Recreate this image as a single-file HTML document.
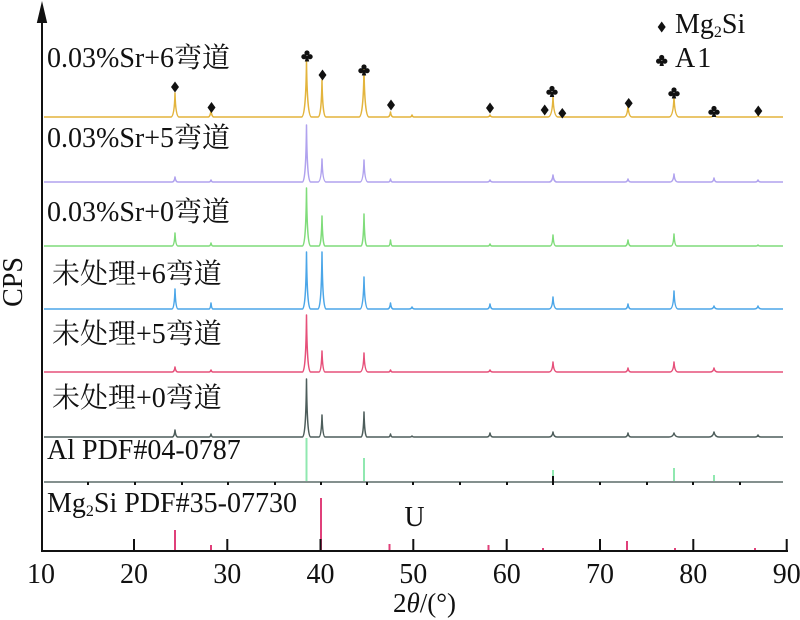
<!DOCTYPE html>
<html>
<head>
<meta charset="utf-8">
<style>
html,body{margin:0;padding:0;background:#fff;}
svg{display:block;}
text{font-family:"Liberation Serif","Noto Serif CJK SC",serif;fill:#111;}
</style>
</head>
<body>
<svg width="800" height="620" viewBox="0 0 800 620" xmlns="http://www.w3.org/2000/svg">
<rect width="800" height="620" fill="#fff"/>

<!-- series -->
<g fill="none" stroke-width="1.5" stroke-linejoin="round">
<path stroke="#e3b43c" d="M44,117 L171,117 Q174.4,117 175,93 Q175.6,117 179,117 L208,117 Q210.4,117 211,110 Q211.6,117 214,117 L301.5,117 Q305.9,117 306.5,60 Q307.1,117 311.5,117 L318,117 Q321.4,117 322,80 Q322.6,117 326,117 L359,117 Q363.4,117 364,68 Q364.6,117 369,117 L387.5,117 Q389.9,117 390.5,112 Q391.1,117 393.5,117 L410,117 Q411.4,117 412,115 Q412.6,117 414,117 L487,117 Q489.4,117 490,115 Q490.6,117 493,117 L548,117 Q552.4,117 553,96 Q553.6,117 558,117 L624,117 Q627.4,117 628,105 Q628.6,117 632,117 L669,117 Q673.4,117 674,96 Q674.6,117 679,117 L710,117 Q713.4,117 714,114 Q714.6,117 718,117 L755,117 Q757.4,117 758,116 Q758.6,117 761,117 L783,117"/>
<path stroke="#b0a2ee" d="M44,182 L172,182 Q174.4,182 175,177 Q175.6,182 178,182 L209,182 Q210.4,182 211,180 Q211.6,182 213,182 L302.5,182 Q305.9,182 306.5,125 Q307.1,182 310.5,182 L318,182 Q321.4,182 322,159 Q322.6,182 326,182 L360,182 Q363.4,182 364,160 Q364.6,182 368,182 L388.5,182 Q389.9,182 390.5,179 Q391.1,182 392.5,182 L487,182 Q489.4,182 490,180 Q490.6,182 493,182 L549,182 Q552.4,182 553,175 Q553.6,182 557,182 L625,182 Q627.4,182 628,179 Q628.6,182 631,182 L670,182 Q673.4,182 674,174 Q674.6,182 678,182 L711,182 Q713.4,182 714,178 Q714.6,182 717,182 L755,182 Q757.4,182 758,180 Q758.6,182 761,182 L783,182"/>
<path stroke="#7fdc7a" d="M44,246 L172,246 Q174.4,246 175,233 Q175.6,246 178,246 L209,246 Q210.4,246 211,243 Q211.6,246 213,246 L302.5,246 Q305.9,246 306.5,188 Q307.1,246 310.5,246 L319,246 Q321.4,246 322,216 Q322.6,246 325,246 L361,246 Q363.4,246 364,214 Q364.6,246 367,246 L388.5,246 Q389.9,246 390.5,240 Q391.1,246 392.5,246 L488,246 Q489.4,246 490,244 Q490.6,246 492,246 L550,246 Q552.4,246 553,235 Q553.6,246 556,246 L625,246 Q627.4,246 628,240 Q628.6,246 631,246 L671,246 Q673.4,246 674,234 Q674.6,246 677,246 L756,246 Q757.4,246 758,245 Q758.6,246 760,246 L783,246"/>
<path stroke="#4ba6e8" d="M44,309 L172,309 Q174.4,309 175,289 Q175.6,309 178,309 L209,309 Q210.4,309 211,303 Q211.6,309 213,309 L302.5,309 Q305.9,309 306.5,252 Q307.1,309 310.5,309 L318,309 Q321.4,309 322,252 Q322.6,309 326,309 L360,309 Q363.4,309 364,277 Q364.6,309 368,309 L387.5,309 Q389.9,309 390.5,303 Q391.1,309 393.5,309 L409,309 Q411.4,309 412,307 Q412.6,309 415,309 L487,309 Q489.4,309 490,304 Q490.6,309 493,309 L549,309 Q552.4,309 553,297 Q553.6,309 557,309 L625,309 Q627.4,309 628,304 Q628.6,309 631,309 L670,309 Q673.4,309 674,291 Q674.6,309 678,309 L710,309 Q713.4,309 714,306 Q714.6,309 718,309 L754,309 Q757.4,309 758,306 Q758.6,309 762,309 L783,309"/>
<path stroke="#e6507a" d="M44,372 L172,372 Q174.4,372 175,367 Q175.6,372 178,372 L209,372 Q210.4,372 211,370 Q211.6,372 213,372 L302.5,372 Q305.9,372 306.5,315 Q307.1,372 310.5,372 L319,372 Q321.4,372 322,351 Q322.6,372 325,372 L360,372 Q363.4,372 364,353 Q364.6,372 368,372 L388.5,372 Q389.9,372 390.5,370 Q391.1,372 392.5,372 L487,372 Q489.4,372 490,370 Q490.6,372 493,372 L549,372 Q552.4,372 553,362 Q553.6,372 557,372 L625,372 Q627.4,372 628,368 Q628.6,372 631,372 L670,372 Q673.4,372 674,362 Q674.6,372 678,372 L710,372 Q713.4,372 714,368 Q714.6,372 718,372 L783,372"/>
<path stroke="#4d5d5b" d="M44,437 L172,437 Q174.4,437 175,430 Q175.6,437 178,437 L209,437 Q210.4,437 211,434 Q211.6,437 213,437 L302.5,437 Q305.9,437 306.5,379 Q307.1,437 310.5,437 L319,437 Q321.4,437 322,415 Q322.6,437 325,437 L361,437 Q363.4,437 364,412 Q364.6,437 367,437 L388.5,437 Q389.9,437 390.5,434 Q391.1,437 392.5,437 L410,437 Q411.4,437 412,436 Q412.6,437 414,437 L487,437 Q489.4,437 490,433 Q490.6,437 493,437 L549,437 Q552.4,437 553,432 Q553.6,437 557,437 L625,437 Q627.4,437 628,433 Q628.6,437 631,437 L669,437 Q673,437 674,433 Q675,437 679,437 L709,437 Q713,437 714,432 Q715,437 719,437 L755,437 Q757.4,437 758,435 Q758.6,437 761,437 L783,437"/>
</g>

<!-- Al PDF row -->
<g stroke="#90e8b0" stroke-width="2">
<line x1="306.5" y1="438" x2="306.5" y2="481"/>
<line x1="364" y1="458" x2="364" y2="481"/>
<line x1="553" y1="470" x2="553" y2="481"/>
<line x1="674" y1="468" x2="674" y2="481"/>
<line x1="714" y1="475" x2="714" y2="481"/>
</g>
<line x1="44" y1="482" x2="783" y2="482" stroke="#5b6b69" stroke-width="1.6"/>
<g fill="#111">
<rect x="87" y="482" width="2" height="3"/>
<rect x="134" y="482" width="2" height="3"/>
<rect x="181" y="482" width="2" height="3"/>
<rect x="227" y="482" width="2" height="3"/>
<rect x="274" y="482" width="2" height="3"/>
<rect x="320" y="482" width="2" height="3"/>
<rect x="366" y="482" width="2" height="3"/>
<rect x="412" y="482" width="2" height="3"/>
<rect x="459" y="482" width="2" height="3"/>
<rect x="506" y="482" width="2" height="3"/>
<rect x="552" y="476" width="2" height="9"/>
<rect x="599" y="482" width="2" height="3"/>
<rect x="646" y="482" width="2" height="3"/>
<rect x="692" y="482" width="2" height="3"/>
<rect x="739" y="482" width="2" height="3"/>
</g>

<!-- Mg2Si PDF row -->
<g stroke="#e0407a" stroke-width="2">
<line x1="175" y1="530" x2="175" y2="551"/>
<line x1="211" y1="545" x2="211" y2="551"/>
<line x1="321" y1="498" x2="321" y2="551"/>
<line x1="389.5" y1="544" x2="389.5" y2="551"/>
<line x1="488.5" y1="545" x2="488.5" y2="551"/>
<line x1="543" y1="548" x2="543" y2="551"/>
<line x1="627" y1="541" x2="627" y2="551"/>
<line x1="675" y1="548" x2="675" y2="551"/>
<line x1="755" y1="548" x2="755" y2="551"/>
</g>

<!-- axes -->
<g stroke="#111" stroke-width="2">
<line x1="42" y1="18" x2="42" y2="552"/>
<line x1="41" y1="551" x2="788" y2="551"/>
<line x1="134" y1="539" x2="134" y2="551"/>
<line x1="227.3" y1="539" x2="227.3" y2="551"/>
<line x1="320.5" y1="539" x2="320.5" y2="551"/>
<line x1="413.3" y1="539" x2="413.3" y2="551"/>
<line x1="506.7" y1="539" x2="506.7" y2="551"/>
<line x1="600" y1="539" x2="600" y2="551"/>
<line x1="693.3" y1="539" x2="693.3" y2="551"/>
<line x1="786.7" y1="539" x2="786.7" y2="551"/>
</g>
<polygon points="42,1 36.8,23 47.2,23" fill="#111"/>

<!-- markers: diamonds -->
<g fill="#111">
<path d="M175,81.5 L179,87 L175,92.5 L171,87 Z"/>
<path d="M211.5,102 L215.5,107.5 L211.5,113 L207.5,107.5 Z"/>
<path d="M322.5,69.5 L326.5,75 L322.5,80.5 L318.5,75 Z"/>
<path d="M391,99.5 L395,105 L391,110.5 L387,105 Z"/>
<path d="M490,102.5 L494,108 L490,113.5 L486,108 Z"/>
<path d="M544.7,104.5 L548.7,110 L544.7,115.5 L540.7,110 Z"/>
<path d="M562.3,108 L566.3,113.3 L562.3,118.5 L558.3,113.3 Z"/>
<path d="M628.7,98 L632.7,103.3 L628.7,108.5 L624.7,103.3 Z"/>
<path d="M758.3,105.5 L762.3,111 L758.3,116.5 L754.3,111 Z"/>
<path d="M661.7,21.5 L665.7,27 L661.7,32.5 L657.7,27 Z"/>
</g>
<!-- markers: clubs -->
<g fill="#111">
<g transform="translate(307,56)"><circle cx="0" cy="-3" r="2.6"/><circle cx="-3.1" cy="0.7" r="2.6"/><circle cx="3.1" cy="0.7" r="2.6"/><path d="M-0.8,0 L0.8,0 L2.2,5.5 L-2.2,5.5 Z"/></g>
<g transform="translate(364,70)"><circle cx="0" cy="-3" r="2.6"/><circle cx="-3.1" cy="0.7" r="2.6"/><circle cx="3.1" cy="0.7" r="2.6"/><path d="M-0.8,0 L0.8,0 L2.2,5.5 L-2.2,5.5 Z"/></g>
<g transform="translate(552,91.5)"><circle cx="0" cy="-3" r="2.6"/><circle cx="-3.1" cy="0.7" r="2.6"/><circle cx="3.1" cy="0.7" r="2.6"/><path d="M-0.8,0 L0.8,0 L2.2,5.5 L-2.2,5.5 Z"/></g>
<g transform="translate(674,93)"><circle cx="0" cy="-3" r="2.6"/><circle cx="-3.1" cy="0.7" r="2.6"/><circle cx="3.1" cy="0.7" r="2.6"/><path d="M-0.8,0 L0.8,0 L2.2,5.5 L-2.2,5.5 Z"/></g>
<g transform="translate(714,111.5)"><circle cx="0" cy="-3" r="2.6"/><circle cx="-3.1" cy="0.7" r="2.6"/><circle cx="3.1" cy="0.7" r="2.6"/><path d="M-0.8,0 L0.8,0 L2.2,5.5 L-2.2,5.5 Z"/></g>
<g transform="translate(661.7,60.5)"><circle cx="0" cy="-3" r="2.6"/><circle cx="-3.1" cy="0.7" r="2.6"/><circle cx="3.1" cy="0.7" r="2.6"/><path d="M-0.8,0 L0.8,0 L2.2,5.5 L-2.2,5.5 Z"/></g>
</g>

<!-- legend text -->
<text x="675" y="33" font-size="28">Mg<tspan font-size="16" dy="4">2</tspan><tspan dy="-4">Si</tspan></text>
<text x="675" y="67" font-size="28" letter-spacing="2">A1</text>

<!-- series labels -->
<g font-size="28">
<text x="47" y="67">0.03%Sr+6弯道</text>
<text x="47" y="147">0.03%Sr+5弯道</text>
<text x="47" y="221">0.03%Sr+0弯道</text>
<text x="52" y="283">未处理+6弯道</text>
<text x="52" y="343">未处理+5弯道</text>
<text x="52" y="407">未处理+0弯道</text>
<text x="47" y="459">Al PDF#04-0787</text>
<text x="47" y="512">Mg<tspan font-size="16" dy="4">2</tspan><tspan dy="-4">Si PDF#35-07730</tspan></text>
<text x="414.5" y="526" text-anchor="middle">U</text>
</g>

<!-- tick labels -->
<g font-size="28" text-anchor="middle">
<text x="41" y="583">10</text>
<text x="134" y="583">20</text>
<text x="227.3" y="583">30</text>
<text x="320.5" y="583">40</text>
<text x="413.3" y="583">50</text>
<text x="506.7" y="583">60</text>
<text x="600" y="583">70</text>
<text x="693.3" y="583">80</text>
<text x="786.7" y="583">90</text>
</g>

<!-- axis labels -->
<text x="393" y="612" font-size="27">2<tspan font-style="italic">θ</tspan>/(°)</text>
<text transform="translate(22,282) rotate(-90)" font-size="28" text-anchor="middle">CPS</text>
</svg>
</body>
</html>
